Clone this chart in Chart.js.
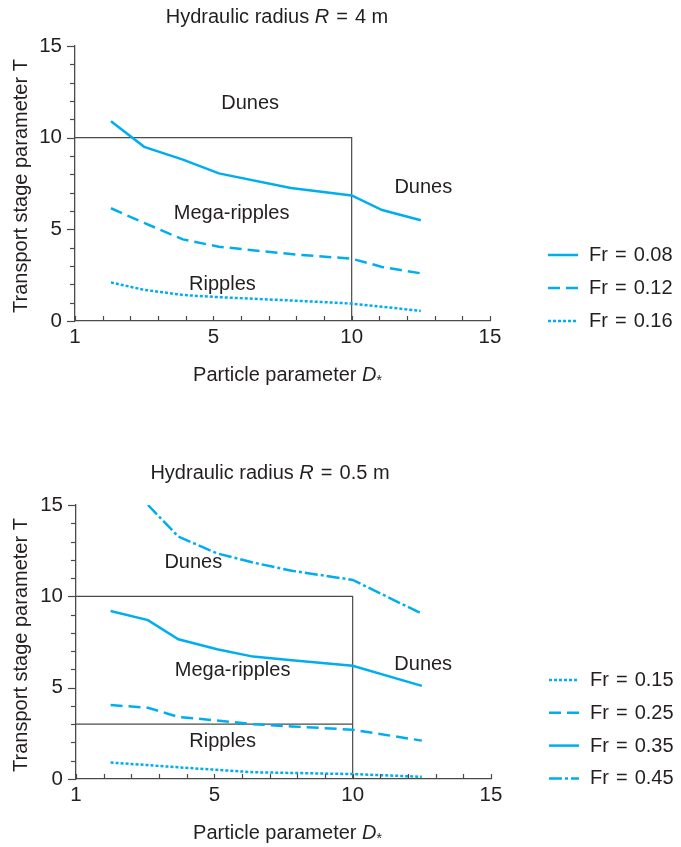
<!DOCTYPE html>
<html><head><meta charset="utf-8">
<script src="https://cdn.jsdelivr.net/npm/chart.js@4/dist/chart.umd.min.js"></script>
<style>
html,body{margin:0;padding:0;background:#fff;width:681px;height:847px;overflow:hidden}
canvas{position:absolute;left:0}
#c1{top:0}
#c2{top:420px}
</style></head><body>
<canvas id="c1" width="681" height="420"></canvas>
<canvas id="c2" width="681" height="427"></canvas>
<script>
// ---------------- data ----------------
// Upper chart: hydraulic radius R = 4 m
const topDstar  = [1.3, 2.5, 3.9, 5.2, 7.8, 10, 11.1, 12.5];
const topFr008  = [10.9, 9.5, 8.8, 8.05, 7.25, 6.85, 6.05, 5.5];
const topFr012  = [6.15, 5.35, 4.45, 4.05, 3.65, 3.4, 2.95, 2.6];
const topFr016  = [2.1, 1.7, 1.42, 1.3, 1.12, 0.95, 0.78, 0.55];
const topLabels = ['Fr = 0.08', 'Fr = 0.12', 'Fr = 0.16'];

// Lower chart: hydraulic radius R = 0.5 m
const botDstar  = [1.25, 2.6, 3.7, 5.1, 6.4, 7.8, 10, 12.5];
const botFr015  = [0.9, 0.76, 0.64, 0.5, 0.37, 0.33, 0.27, 0.12];
const botFr025  = [4.05, 3.9, 3.4, 3.2, 3.0, 2.88, 2.7, 2.1];
const botFr035  = [9.2, 8.7, 7.65, 7.1, 6.7, 6.5, 6.2, 5.1];
const botFr045  = [null, 15.0, 13.27, 12.35, 11.85, 11.4, 10.9, 9.05];
const botLabels = ['Fr = 0.15', 'Fr = 0.25', 'Fr = 0.35', 'Fr = 0.45'];

// Bedform regime boundaries
const boxX = [0, 10, 10];
const boxT = [10, 10, 0];
const rippleX = [0, 10];
const rippleT = [3, 3];

// Axis ticks
const tickValues  = [0, 5, 10, 15];
const xTickLabels = ['1', '5', '10', '15'];
const yTickLabels = ['0', '5', '10', '15'];

// ---------------- styling ----------------
const INK = '#231f20';
const CYAN = '#00aeef';
const AXIS = '#4a4a4a';
const FONT = "'Liberation Sans', Arial, Helvetica, sans-serif";
Chart.defaults.font.family = FONT;
Chart.defaults.font.size = 20;
Chart.defaults.color = INK;

const DASH = { solid: [], dashed: [12, 6], dotted: [3, 2], dashdot: [13, 3, 3, 3] };

function pts(xs, ys) {
  const out = [];
  xs.forEach((x, i) => { if (ys[i] !== null && ys[i] !== undefined) out.push({ x: x, y: ys[i] }); });
  return out;
}
function series(label, xs, ys, dash) {
  return { label, data: pts(xs, ys), borderColor: CYAN, borderWidth: 2.5, borderDash: dash,
           pointRadius: 0, tension: 0, fill: false, borderCapStyle: 'butt', isSeries: true };
}
function boundary(xs, ys) {
  return { label: '', data: pts(xs, ys), borderColor: AXIS, borderWidth: 1.2, pointRadius: 0,
           tension: 0, fill: false, isSeries: false };
}

// split "a = b" into runs with a slightly wider, math-style equals sign
function eqRuns(text) {
  const parts = text.split(' = ');
  if (parts.length < 2) return [{ t: text }];
  return [{ t: parts[0] + ' ' }, { t: '=', dx: 1.5, kern: 3 }, { t: ' ' + parts[1] }];
}

function measureRuns(ctx, runs) {
  let w = 0;
  runs.forEach(r => {
    ctx.font = (r.italic ? 'italic ' : '') + (r.size || 20) + 'px ' + FONT;
    r.w = ctx.measureText(r.t).width + (r.kern || 0);
    w += r.w;
  });
  return w;
}
function drawRuns(ctx, runs, x0, baseline, center) {
  const w = measureRuns(ctx, runs);
  let x = center ? x0 - w / 2 : x0;
  ctx.textAlign = 'left'; ctx.textBaseline = 'alphabetic'; ctx.fillStyle = INK;
  runs.forEach(r => {
    ctx.font = (r.italic ? 'italic ' : '') + (r.size || 20) + 'px ' + FONT;
    ctx.fillText(r.t, x + (r.dx || 0), baseline + (r.dy || 0));
    x += r.w;
  });
}

const decor = {
  id: 'decor',
  afterDatasetsDraw(chart, args, o) {
    const ctx = chart.ctx, xs = chart.scales.x, ys = chart.scales.y;
    ctx.save();
    // minor / major tick marks
    ctx.strokeStyle = AXIS; ctx.lineWidth = 1.2; ctx.setLineDash([]);
    for (let v = 0; v <= 15; v++) {
      const py = Math.round(ys.getPixelForValue(v)) + 0.5;
      const len = (v % 5 === 0) ? 8 : 5;
      ctx.beginPath(); ctx.moveTo(xs.left - len, py); ctx.lineTo(xs.left, py); ctx.stroke();
      const px = Math.round(xs.getPixelForValue(v)) + 0.5;
      ctx.beginPath(); ctx.moveTo(px, ys.bottom); ctx.lineTo(px, ys.bottom - 5); ctx.stroke();
    }
    // regime labels
    ctx.font = '20px ' + FONT; ctx.fillStyle = INK; ctx.textAlign = 'center'; ctx.textBaseline = 'alphabetic';
    o.regions.forEach(r => ctx.fillText(r.text, xs.getPixelForValue(r.x), ys.getPixelForValue(r.y) + 7));
    // chart title
    drawRuns(ctx, o.title, o.titleX, o.titleY, true);
    // x title
    drawRuns(ctx, [{ t: 'Particle parameter ' }, { t: 'D', italic: true, kern: 1 }, { t: '*', size: 14, dy: 4, dx: -1, kern: 2 }], o.xTitleX, o.xTitleY, true);
    // y title
    ctx.save();
    ctx.translate(o.yTitleX, o.yTitleY); ctx.rotate(-Math.PI / 2);
    ctx.font = '20px ' + FONT; ctx.textAlign = 'center'; ctx.textBaseline = 'alphabetic'; ctx.fillStyle = INK;
    ctx.fillText('Transport stage parameter T', 0, 0);
    ctx.restore();
    // legend
    let y = o.legendY;
    chart.data.datasets.filter(d => d.isSeries).sort((a, b) => a.legendOrder - b.legendOrder).forEach(d => {
      ctx.strokeStyle = d.borderColor; ctx.lineWidth = d.borderWidth; ctx.setLineDash(d.borderDash || []);
      ctx.beginPath(); ctx.moveTo(o.legendX, y); ctx.lineTo(o.legendX + 30, y); ctx.stroke();
      ctx.setLineDash([]);
      drawRuns(ctx, eqRuns(d.label), o.legendX + 41, y + 6, false);
      y += o.legendDy;
    });
    ctx.restore();
  }
};

function makeChart(id, datasets, area, canvasH, xAxisH, decorOpts) {
  return new Chart(document.getElementById(id), {
    type: 'line',
    data: { datasets },
    plugins: [decor],
    options: {
      responsive: false, animation: false,
      layout: { padding: { left: 0, top: area.top, right: 681 - area.right, bottom: 0 } },
      plugins: { legend: { display: false }, tooltip: { enabled: false }, decor: decorOpts },
      scales: {
        x: {
          type: 'linear', min: 0, max: 15,
          grid: { display: false, drawTicks: false },
          border: { display: true, color: AXIS, width: 1.3 },
          ticks: { stepSize: 5, padding: 4, autoSkip: false, maxRotation: 0, color: INK,
                   font: { size: 20.5 },
                   callback: v => { const i = tickValues.indexOf(v); return i >= 0 ? xTickLabels[i] : ''; } },
          afterFit: s => { s.height = xAxisH; }
        },
        y: {
          type: 'linear', min: 0, max: 15,
          grid: { display: false, drawTicks: false },
          border: { display: true, color: AXIS, width: 1.3 },
          ticks: { stepSize: 5, padding: 13, color: INK, font: { size: 20.5 },
                   callback: v => { const i = tickValues.indexOf(v); return i >= 0 ? yTickLabels[i] : ''; } },
          afterFit: s => { s.width = area.left; }
        }
      }
    }
  });
}

// upper chart
const topSets = [
  Object.assign(series(topLabels[0], topDstar, topFr008, DASH.solid), { legendOrder: 0 }),
  Object.assign(series(topLabels[1], topDstar, topFr012, DASH.dashed), { legendOrder: 1 }),
  Object.assign(series(topLabels[2], topDstar, topFr016, DASH.dotted), { legendOrder: 2 }),
  boundary(boxX, boxT)
];
makeChart('c1', topSets, { left: 75, top: 46, right: 490 }, 420, 420 - 321, {
  regions: [
    { text: 'Dunes', x: 6.33, y: 11.93 },
    { text: 'Dunes', x: 12.59, y: 7.34 },
    { text: 'Mega-ripples', x: 5.66, y: 5.97 },
    { text: 'Ripples', x: 5.33, y: 2.10 }
  ],
  title: [{ t: 'Hydraulic radius ' }, { t: 'R', italic: true }].concat(eqRuns(' = 4 m')),
  titleX: 277, titleY: 23,
  xTitleX: 289, xTitleY: 381,
  yTitleX: 27, yTitleY: 186,
  legendX: 548, legendY: 255, legendDy: 33
});

// lower chart
const botSets = [
  Object.assign(series(botLabels[0], botDstar, botFr015, DASH.dotted), { legendOrder: 0 }),
  Object.assign(series(botLabels[1], botDstar, botFr025, DASH.dashed), { legendOrder: 1 }),
  Object.assign(series(botLabels[2], botDstar, botFr035, DASH.solid), { legendOrder: 2 }),
  Object.assign(series(botLabels[3], botDstar, botFr045, DASH.dashdot), { legendOrder: 3 }),
  boundary(boxX, boxT),
  boundary(rippleX, rippleT)
];
makeChart('c2', botSets, { left: 76, top: 85, right: 491 }, 427, 427 - 359, {
  regions: [
    { text: 'Dunes', x: 4.24, y: 11.94 },
    { text: 'Mega-ripples', x: 5.66, y: 6.03 },
    { text: 'Dunes', x: 12.55, y: 6.36 },
    { text: 'Ripples', x: 5.30, y: 2.15 }
  ],
  title: [{ t: 'Hydraulic radius ' }, { t: 'R', italic: true }].concat(eqRuns(' = 0.5 m')),
  titleX: 270, titleY: 59,
  xTitleX: 289, xTitleY: 419,
  yTitleX: 27, yTitleY: 225,
  legendX: 549, legendY: 260, legendDy: 32.8
});
</script>
</body></html>
